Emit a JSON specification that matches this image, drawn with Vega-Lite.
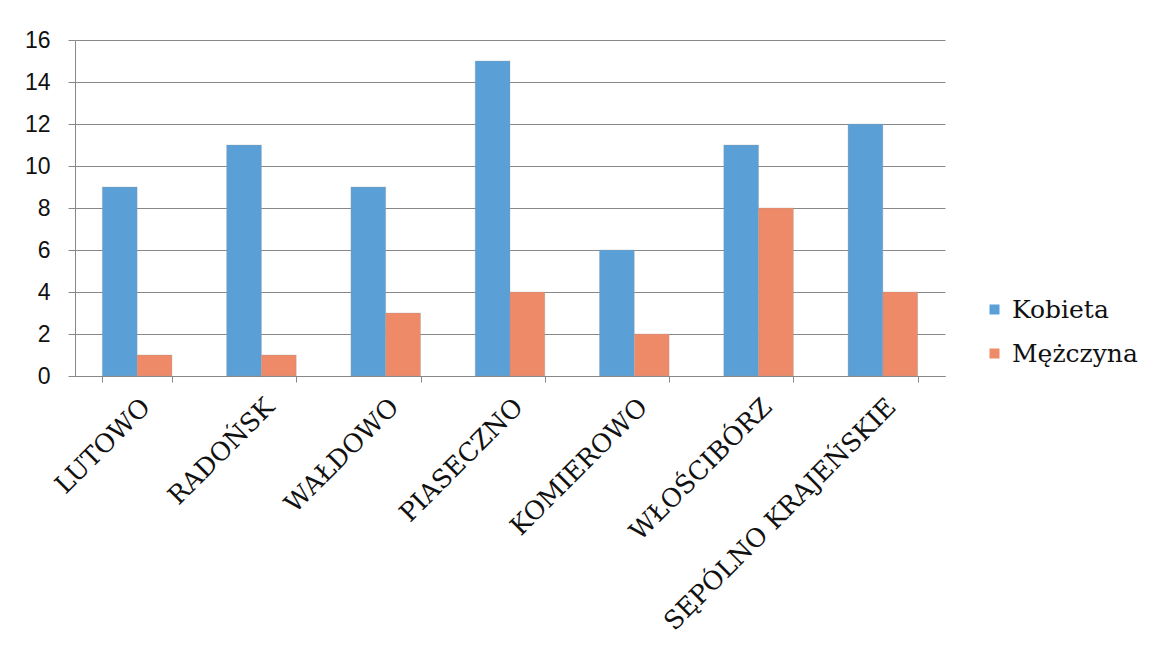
{
  "$schema": "https://vega.github.io/schema/vega-lite/v6.json",
  "autosize": "none",
  "width": 870,
  "height": 336,
  "padding": {"left": 75, "top": 40, "right": 207, "bottom": 279},
  "background": "white",
  "data": {
    "values": [
      {"miejsce": "LUTOWO", "plec": "Kobieta", "liczba": 9},
      {"miejsce": "LUTOWO", "plec": "Mężczyna", "liczba": 1},
      {"miejsce": "RADOŃSK", "plec": "Kobieta", "liczba": 11},
      {"miejsce": "RADOŃSK", "plec": "Mężczyna", "liczba": 1},
      {"miejsce": "WAŁDOWO", "plec": "Kobieta", "liczba": 9},
      {"miejsce": "WAŁDOWO", "plec": "Mężczyna", "liczba": 3},
      {"miejsce": "PIASECZNO", "plec": "Kobieta", "liczba": 15},
      {"miejsce": "PIASECZNO", "plec": "Mężczyna", "liczba": 4},
      {"miejsce": "KOMIEROWO", "plec": "Kobieta", "liczba": 6},
      {"miejsce": "KOMIEROWO", "plec": "Mężczyna", "liczba": 2},
      {"miejsce": "WŁOŚCIBÓRZ", "plec": "Kobieta", "liczba": 11},
      {"miejsce": "WŁOŚCIBÓRZ", "plec": "Mężczyna", "liczba": 8},
      {"miejsce": "SĘPÓLNO KRAJEŃSKIE", "plec": "Kobieta", "liczba": 12},
      {"miejsce": "SĘPÓLNO KRAJEŃSKIE", "plec": "Mężczyna", "liczba": 4}
    ]
  },
  "mark": {"type": "bar", "strokeWidth": 0.6, "stroke": "#9a9a9a", "strokeOpacity": 0.5},
  "encoding": {
    "x": {
      "field": "miejsce",
      "type": "nominal",
      "sort": null,
      "title": null,
      "scale": {"paddingInner": 0.44, "paddingOuter": 0.22},
      "axis": {
        "labelAngle": -45,
        "labelFont": "DejaVu Serif",
        "labelFontSize": 25.5,
        "labelColor": "#111",
        "labelPadding": 12,
        "labelLimit": 500,
        "labelOverlap": false,
        "tickBand": "extent",
        "tickSize": 6,
        "tickColor": "#888",
        "domainColor": "#888",
        "grid": false
      }
    },
    "xOffset": {"field": "plec", "type": "nominal", "sort": ["Kobieta", "Mężczyna"]},
    "y": {
      "field": "liczba",
      "type": "quantitative",
      "title": null,
      "scale": {"domain": [0, 16], "nice": false},
      "axis": {
        "values": [0, 2, 4, 6, 8, 10, 12, 14, 16],
        "labelFont": "Liberation Sans",
        "labelFontSize": 23,
        "labelColor": "#111",
        "labelPadding": 18,
        "tickSize": 7,
        "tickColor": "#888",
        "domainColor": "#888",
        "gridColor": "#888",
        "gridWidth": 1
      }
    },
    "color": {
      "field": "plec",
      "type": "nominal",
      "title": null,
      "sort": ["Kobieta", "Mężczyna"],
      "scale": {"domain": ["Kobieta", "Mężczyna"], "range": ["#5a9fd6", "#ee8a68"]},
      "legend": {
        "orient": "none",
        "legendX": 907,
        "legendY": 257,
        "symbolType": "square",
        "symbolSize": 100,
        "symbolStrokeWidth": 0,
        "labelFont": "DejaVu Serif",
        "labelFontSize": 25,
        "labelColor": "#111",
        "rowPadding": 18,
        "labelOffset": 5
      }
    }
  },
  "config": {"view": {"stroke": null}}
}
